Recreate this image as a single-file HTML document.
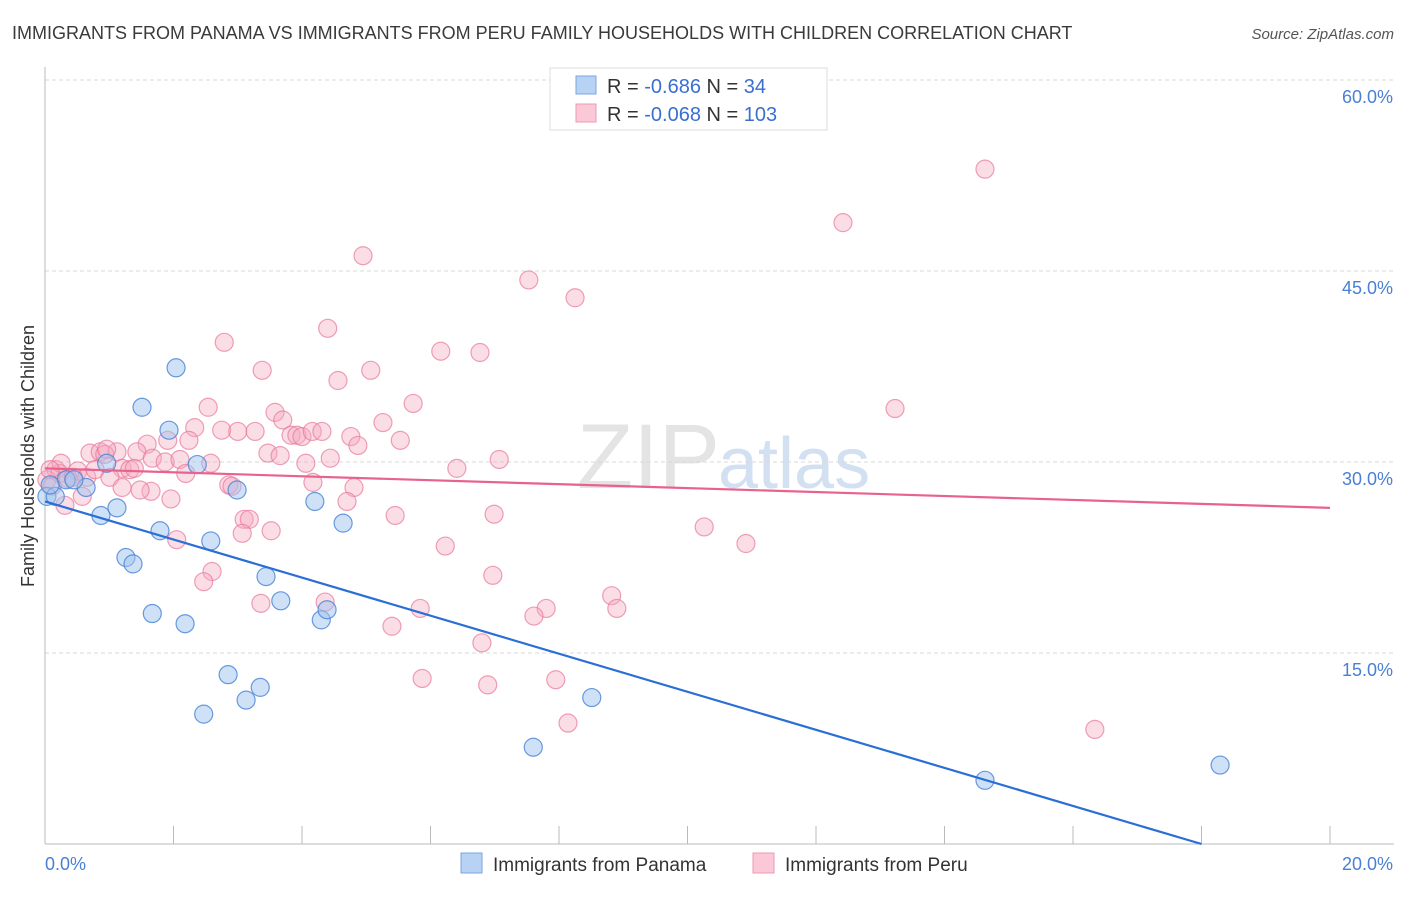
<!DOCTYPE html>
<html><head><meta charset="utf-8"><style>
body{margin:0;background:#fff;font-family:"Liberation Sans",sans-serif;}
svg text{font-family:"Liberation Sans",sans-serif;}
</style></head><body>
<svg id="chart" width="1406" height="892" viewBox="0 0 1406 892" xmlns="http://www.w3.org/2000/svg">
<text x="12" y="39" font-size="18" fill="#3a3a3a">IMMIGRANTS FROM PANAMA VS IMMIGRANTS FROM PERU FAMILY HOUSEHOLDS WITH CHILDREN CORRELATION CHART</text>
<text x="1394" y="39" font-size="15" fill="#555" text-anchor="end" font-style="italic">Source: ZipAtlas.com</text>
<text x="720" y="488" font-size="92" fill="#e4e4e4" text-anchor="end" font-family="Liberation Serif">ZIP</text>
<text x="718" y="488" font-size="72" fill="#d2e0f2">atlas</text>
<g id="grid"></g>
<g id="axes"></g>
<g id="marks"></g>
<text transform="translate(34,456) rotate(-90)" font-size="18" fill="#333" text-anchor="middle">Family Households with Children</text>
<g>
<rect x="550" y="68" width="277" height="62" fill="#fff" stroke="#ddd"/>
<rect x="576" y="76" width="20" height="18" fill="#b8d2f4" stroke="#7aa6e0"/>
<text x="607" y="93" font-size="20" fill="#333">R = <tspan fill="#3a6fd0">-0.686</tspan>   N =  <tspan fill="#3a6fd0"> 34</tspan></text>
<rect x="576" y="104" width="20" height="18" fill="#fac8d6" stroke="#ee9ab4"/>
<text x="607" y="121" font-size="20" fill="#333">R = <tspan fill="#3a6fd0">-0.068</tspan>   N = <tspan fill="#3a6fd0">103</tspan></text>
</g>
<g>
<rect x="461" y="853" width="21" height="20" fill="#b8d2f4" stroke="#7aa6e0"/>
<text x="493" y="871" font-size="19" fill="#333">Immigrants from Panama</text>
<rect x="753" y="853" width="21" height="20" fill="#fac8d6" stroke="#ee9ab4"/>
<text x="785" y="871" font-size="19" fill="#333">Immigrants from Peru</text>
</g>
</svg>
<script>
const xTicks=[0,2,4,6,8,10,12,14,16,18,20];
const yTicks=[15,30,45,60];
const yTickLabels=["15.0%","30.0%","45.0%","60.0%"];
const xTickLabels=["0.0%","20.0%"];
const panamaX=[0.03,0.16,0.33,0.64,0.87,1.12,0.96,1.51,1.26,1.37,1.67,1.79,1.93,2.04,2.18,2.37,2.47,2.58,2.85,2.99,3.13,3.35,3.44,3.67,4.20,4.30,4.39,4.64,7.60,8.51,14.63,18.29,0.08,0.45];
const panamaY=[27.3,27.3,28.6,28.0,25.8,26.4,29.9,34.3,22.5,22.0,18.1,24.6,32.5,37.4,17.3,29.8,10.2,23.8,13.3,27.8,11.3,12.3,21.0,19.1,26.9,17.6,18.4,25.2,7.6,11.5,5.0,6.2,28.2,28.6];
const peruX=[14.63,12.42,4.95,7.53,8.25,2.79,4.40,6.16,6.77,3.38,5.07,4.56,13.23,2.54,5.73,3.58,3.70,2.33,2.75,3.00,3.27,3.83,3.92,4.00,4.16,4.31,4.76,5.26,5.53,4.87,1.59,1.91,2.24,0.70,0.86,1.12,0.93,1.43,1.67,1.87,2.10,2.58,3.47,3.66,4.06,4.44,6.41,7.07,1.20,1.32,1.39,0.51,0.65,0.17,0.23,0.03,0.11,0.36,1.01,1.20,2.19,2.86,4.17,1.65,1.96,2.91,4.81,4.70,0.31,0.58,5.45,6.99,3.10,3.18,3.07,3.52,2.05,10.26,10.91,6.23,2.60,2.47,6.97,4.36,3.36,5.84,8.82,7.80,8.90,7.61,5.40,6.80,5.87,7.95,6.89,8.14,16.34,0.44,0.78,0.96,0.25,1.48,0.08];
const peruY=[53.0,48.8,46.2,44.3,42.9,39.4,40.5,38.7,38.6,37.2,37.2,36.4,34.2,34.3,34.6,33.9,33.3,32.7,32.5,32.4,32.4,32.1,32.1,32.0,32.4,32.4,32.0,33.1,31.7,31.3,31.4,31.7,31.7,30.7,30.8,30.8,30.6,30.8,30.3,30.0,30.2,29.9,30.7,30.5,29.9,30.3,29.5,30.2,29.5,29.4,29.5,29.3,28.8,29.4,29.1,28.6,28.1,28.7,28.8,28.0,29.1,28.2,28.4,27.7,27.1,28.1,28.0,26.9,26.6,27.3,25.8,25.9,25.5,25.5,24.4,24.6,23.9,24.9,23.6,23.4,21.4,20.6,21.1,19.0,18.9,18.5,19.5,18.5,18.5,17.9,17.1,15.8,13.0,12.9,12.5,9.5,9.0,28.8,29.4,31.0,29.9,27.8,29.4];
const panamaTrendX=[0,18.0];
const panamaTrendY=[26.9,0];
const peruTrendX=[0,20];
const peruTrendY=[29.5,26.4];
const NS="http://www.w3.org/2000/svg";
const xs=v=>45+v*64.25;
const ys=v=>844-v*12.733;
function mk(tag,attrs,parent){const e=document.createElementNS(NS,tag);for(const k in attrs)e.setAttribute(k,attrs[k]);parent.appendChild(e);return e;}
const grid=document.getElementById('grid'),axes=document.getElementById('axes'),marks=document.getElementById('marks');
yTicks.forEach((t,i)=>{
  const l=mk('line',{x1:45,x2:1394,y1:ys(t),y2:ys(t),stroke:'#d8d8d8','stroke-dasharray':'4,3'},grid);
  
  
  const tx=mk('text',{x:1393,y:ys(t)+23,'font-size':18,fill:'#4a7fd4','text-anchor':'end'},axes);
  tx.textContent=yTickLabels[i];
  
  
});
const yl=mk('line',{x1:45,x2:45,y1:67,y2:844,stroke:'#bbb'},axes);


const xl=mk('line',{x1:45,x2:1394,y1:844,y2:844,stroke:'#bbb'},axes);


xTicks.forEach(t=>{
  const l=mk('line',{x1:xs(t),x2:xs(t),y1:826,y2:844,stroke:'#bbb'},axes);
  
  
});
const x0=mk('text',{x:45,y:870,'font-size':18,fill:'#4a7fd4'},axes);x0.textContent=xTickLabels[0];


const x1=mk('text',{x:1393,y:870,'font-size':18,fill:'#4a7fd4','text-anchor':'end'},axes);x1.textContent=xTickLabels[1];


peruX.forEach((v,i)=>{
  const c=mk('circle',{cx:xs(v),cy:ys(peruY[i]),r:9,fill:'rgba(246,170,193,0.4)',stroke:'rgba(232,120,155,0.7)','stroke-width':1.2},marks);
  
  
});
panamaX.forEach((v,i)=>{
  const c=mk('circle',{cx:xs(v),cy:ys(panamaY[i]),r:9,fill:'rgba(160,196,238,0.5)',stroke:'rgba(70,130,215,0.8)','stroke-width':1.2},marks);
  
  
});
const pt=mk('line',{x1:xs(peruTrendX[0]),y1:ys(peruTrendY[0]),x2:xs(peruTrendX[1]),y2:ys(peruTrendY[1]),stroke:'#e8628e','stroke-width':2.2},marks);


const bt=mk('line',{x1:xs(panamaTrendX[0]),y1:ys(panamaTrendY[0]),x2:xs(panamaTrendX[1]),y2:ys(panamaTrendY[1]),stroke:'#2a6fd6','stroke-width':2.2},marks);


</script>
</body></html>
